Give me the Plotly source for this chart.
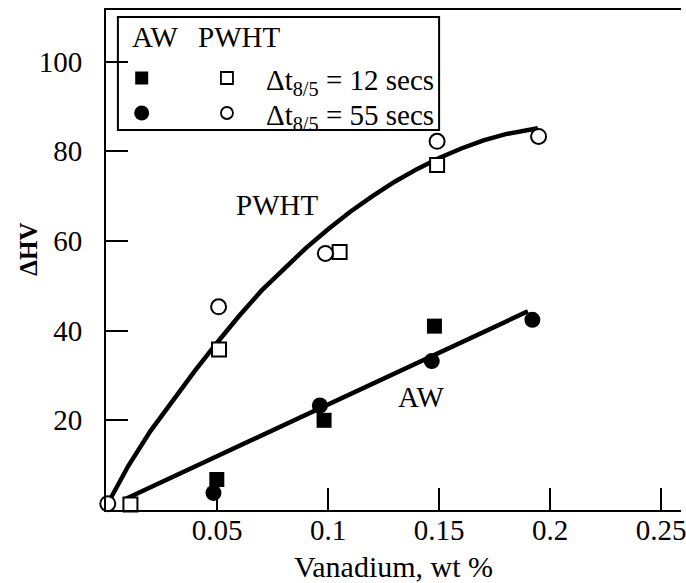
import plotly.graph_objects as go

# ---------------- data ----------------
aw12_x = [0.0060, 0.0499, 0.0982, 0.1479]
aw12_y = [-1.0, 6.8, 20.0, 41.0]
aw55_x = [-0.0046, 0.0484, 0.0963, 0.1467, 0.1920]
aw55_y = [-0.3, 3.8, 23.3, 33.2, 42.4]
pw12_x = [0.0110, 0.0509, 0.1052, 0.1491]
pw12_y = [1.2, 35.8, 57.5, 76.9]
pw55_x = [0.0008, 0.0507, 0.0988, 0.1491, 0.1948]
pw55_y = [1.4, 45.3, 57.2, 82.2, 83.3]

aw_fit_x = [0.008, 0.190]
aw_fit_y = [2.3, 44.3]
pwht_fit_x = [0.002, 0.01, 0.02, 0.03, 0.04, 0.05, 0.06, 0.07, 0.08, 0.09, 0.10,
              0.11, 0.12, 0.13, 0.14, 0.15, 0.16, 0.17, 0.18, 0.19, 0.1945]
pwht_fit_y = [2.5, 9.8, 17.6, 24.5, 31.0, 37.3, 43.3, 48.9, 53.8, 58.4, 62.6,
              66.5, 70.0, 73.2, 76.0, 78.5, 80.6, 82.4, 83.8, 84.8, 85.1]

x_tickvals = [0.05, 0.10, 0.15, 0.20, 0.25]
x_ticktext = ["0.05", "0.1", "0.15", "0.2", "0.25"]
y_tickvals = [20, 40, 60, 80, 100]
y_ticktext = ["20", "40", "60", "80", "100"]

x_title = "Vanadium, wt %"
y_title = "<b>ΔHV</b>"
legend_head = ["AW", "PWHT"]
legend_rows = ["Δt<sub>8/5</sub> = 12 secs", "Δt<sub>8/5</sub> = 55 secs"]
curve_labels = ["PWHT", "AW"]
curve_label_x = [0.0772, 0.142]
curve_label_y = [68.1, 25.1]

# ---------------- layout geometry ----------------
W, H = 686, 583
ML, MR, MT, MB = 106, 0, 10, 73
PW, PH = W - ML - MR, H - MT - MB
FONT = "Liberation Serif"


def px(x):
    return (x - ML) / PW


def py(y):
    return (H - MB - y) / PH


fig = go.Figure()

fig.add_trace(go.Scatter(x=pwht_fit_x, y=pwht_fit_y, mode="lines",
                         line=dict(color="black", width=4.5), showlegend=False, hoverinfo="skip"))
fig.add_trace(go.Scatter(x=aw_fit_x, y=aw_fit_y, mode="lines",
                         line=dict(color="black", width=4.5), showlegend=False, hoverinfo="skip"))

mk_line = dict(color="black", width=2)
fig.add_trace(go.Scatter(x=pw12_x, y=pw12_y, mode="markers", cliponaxis=False, showlegend=False,
                         marker=dict(symbol="square", size=14, color="white", line=mk_line)))
fig.add_trace(go.Scatter(x=pw55_x, y=pw55_y, mode="markers", cliponaxis=False, showlegend=False,
                         marker=dict(symbol="circle", size=15, color="white", line=mk_line)))
fig.add_trace(go.Scatter(x=aw12_x, y=aw12_y, mode="markers", cliponaxis=False, showlegend=False,
                         marker=dict(symbol="square", size=15, color="black", line=dict(width=0))))
fig.add_trace(go.Scatter(x=aw55_x, y=aw55_y, mode="markers", cliponaxis=False, showlegend=False,
                         marker=dict(symbol="circle", size=16, color="black", line=dict(width=0))))

# ---------------- legend box (drawn) ----------------
shapes = [dict(type="rect", xref="paper", yref="paper",
               x0=px(118), x1=px(442), y0=py(130), y1=py(17),
               line=dict(color="black", width=2), fillcolor="white", layer="below")]


def pshape(kind, cx, cy, half, filled):
    return dict(type=kind, xref="paper", yref="paper",
                xsizemode="pixel", ysizemode="pixel",
                xanchor=px(cx), yanchor=py(cy),
                x0=-half, x1=half, y0=-half, y1=half,
                line=dict(color="black", width=0 if filled else 1.8),
                fillcolor="black" if filled else "white", layer="above")


shapes += [
    pshape("rect", 142, 78, 6.5, True),
    pshape("rect", 228, 78, 6, False),
    pshape("circle", 142, 113, 7.5, True),
    pshape("circle", 228, 113, 6, False),
]

ann = []
font = dict(family=FONT, size=29, color="black")
ann.append(dict(text=legend_head[0], xref="paper", yref="paper", x=px(130), y=py(37),
                xanchor="left", yanchor="middle", showarrow=False, font=font))
ann.append(dict(text=legend_head[1], xref="paper", yref="paper", x=px(197), y=py(37),
                xanchor="left", yanchor="middle", showarrow=False, font=font))
for i, t in enumerate(legend_rows):
    ann.append(dict(text=t, xref="paper", yref="paper", x=px(265), y=py(82 + 35 * i),
                    xanchor="left", yanchor="middle", showarrow=False, font=font))
for t, xx, yy in zip(curve_labels, curve_label_x, curve_label_y):
    ann.append(dict(text=t, x=xx, y=yy, xref="x", yref="y", showarrow=False, font=font))
# y-axis title
ann.append(dict(text=y_title, xref="paper", yref="paper", x=px(27), y=py(249),
                xanchor="center", yanchor="middle", textangle=-90, showarrow=False,
                font=dict(family=FONT, size=25, color="black")))

fig.update_layout(
    width=W, height=H,
    margin=dict(l=ML, r=MR, t=MT, b=MB),
    paper_bgcolor="white", plot_bgcolor="white",
    font=dict(family=FONT, size=29, color="black"),
    shapes=shapes, annotations=ann,
    xaxis=dict(range=[0, PW / 2240.0], tickvals=x_tickvals, ticktext=x_ticktext,
               ticks="inside", ticklen=22, tickwidth=2, tickcolor="black",
               showline=True, linecolor="black", linewidth=2, mirror=True,
               showgrid=False, zeroline=False, ticklabelstandoff=-7,
               ticklabeloverflow="allow",
               tickfont=dict(family=FONT, size=29),
               title=dict(text=x_title, font=dict(family=FONT, size=30), standoff=11)),
    yaxis=dict(range=[0, PH / 4.485], tickvals=y_tickvals, ticktext=y_ticktext,
               ticks="inside", ticklen=22, tickwidth=2, tickcolor="black",
               showline=True, linecolor="black", linewidth=2,
               showgrid=False, zeroline=False, ticklabelstandoff=16,
               tickfont=dict(family=FONT, size=29)),
)

fig.write_html("out.html", config={"displayModeBar": False},
               post_script="document.body.style.margin='0';document.body.style.overflow='hidden';")
